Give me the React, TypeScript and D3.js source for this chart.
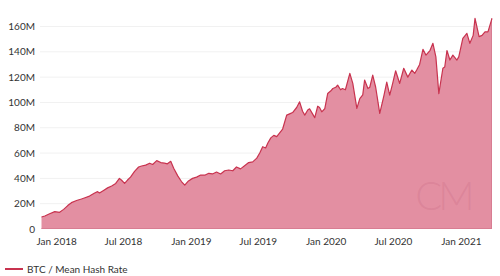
import React from "react";
import * as d3 from "d3";

const dates: string[] = [
  "2017-11-21","2017-11-30","2017-12-13","2017-12-27","2018-01-09","2018-01-20","2018-01-31","2018-02-10","2018-02-24","2018-03-09",
  "2018-03-17","2018-03-31","2018-04-14","2018-04-22","2018-04-27","2018-05-08","2018-05-19","2018-05-30","2018-06-10","2018-06-20",
  "2018-06-26","2018-07-04","2018-07-12","2018-07-20","2018-07-31","2018-08-11","2018-08-19","2018-08-30","2018-09-10","2018-09-18",
  "2018-09-29","2018-10-10","2018-10-20","2018-10-28","2018-11-06","2018-11-14","2018-11-25","2018-12-05","2018-12-14","2018-12-24",
  "2019-01-04","2019-01-15","2019-01-26","2019-02-06","2019-02-17","2019-02-27","2019-03-10","2019-03-21","2019-04-01","2019-04-12",
  "2019-04-23","2019-05-03","2019-05-14","2019-05-25","2019-06-05","2019-06-16","2019-06-27","2019-07-05","2019-07-13","2019-07-21",
  "2019-07-27","2019-08-04","2019-08-12","2019-08-20","2019-08-28","2019-09-05","2019-09-16","2019-09-24","2019-10-02","2019-10-13",
  "2019-10-21","2019-10-29","2019-11-04","2019-11-12","2019-11-17","2019-11-25","2019-12-01","2019-12-09","2019-12-14","2019-12-20",
  "2019-12-28","2020-01-05","2020-01-13","2020-01-19","2020-01-27","2020-02-01","2020-02-09","2020-02-14","2020-02-22","2020-03-05",
  "2020-03-13","2020-03-24","2020-04-01","2020-04-09","2020-04-14","2020-04-23","2020-04-28","2020-05-06","2020-05-14","2020-05-25",
  "2020-06-05","2020-06-13","2020-06-21","2020-06-29","2020-07-07","2020-07-18","2020-07-29","2020-08-09","2020-08-20","2020-08-28",
  "2020-09-02","2020-09-10","2020-09-19","2020-09-27","2020-10-08","2020-10-16","2020-10-24","2020-11-01","2020-11-12","2020-11-17",
  "2020-11-23","2020-12-01","2020-12-09","2020-12-20","2020-12-25","2021-01-05","2021-01-16","2021-01-24","2021-02-02","2021-02-07",
  "2021-02-18","2021-02-26","2021-03-06","2021-03-14","2021-03-25"
];

const hashRateM: number[] = [
  9.5,10.3,12,13.7,13.2,15.5,18.5,20.8,22.5,23.7,
  24.5,26,28.5,29.5,28.5,30.5,32.5,34,36,40,
  38.5,36,38.7,41,45.5,49,49.8,50.5,52,51,
  54,52.5,52,51.5,53.5,48,42,37.5,34.7,38,
  40,41,42.6,42.5,44,43.5,45,43.5,46,46.6,
  46,49,47.5,50,52.5,53,56,60,65,64,
  68,72,74,73,76,79,90,91,92,96,
  100.5,93,90,94,95,91,88,97,96,92.6,
  95,107,109,111,112,113.7,110,111,110,123,
  115,95.3,103,106,117.7,111,112,121.6,112,91.4,
  105,116,105.8,115,125,115,127,120,125.6,123,
  125.6,130,142,137.4,141,146.7,136,107,127,128,
  141,133.5,137.4,133.5,136,150.6,154.6,146.7,153,166.4,
  152,153,155.8,155.8,166.4
];

const yTicks: number[] = [0, 20, 40, 60, 80, 100, 120, 140, 160];
const xTickDates: string[] = ["2018-01-01", "2018-07-01", "2019-01-01", "2019-07-01", "2020-01-01", "2020-07-01", "2021-01-01"];
const seriesName = "BTC / Mean Hash Rate";

const W = 500;
const H = 276;
const FONT = "Lato, 'Open Sans', sans-serif";

export default function App() {
  const parse = d3.utcParse("%Y-%m-%d");
  const data = dates.map((d, i) => ({ date: parse(d) as Date, v: hashRateM[i] }));
  const x = d3
    .scaleUtc()
    .domain([data[0].date, data[data.length - 1].date])
    .range([41.5, 492]);
  const y = d3.scaleLinear().domain([0, 160]).range([229, 26.5]);

  const area = d3
    .area<{ date: Date; v: number }>()
    .x((d) => x(d.date))
    .y0(y(0))
    .y1((d) => y(d.v));
  const line = d3
    .line<{ date: Date; v: number }>()
    .x((d) => x(d.date))
    .y((d) => y(d.v));
  const fmt = d3.utcFormat("%b %Y");

  return (
    <svg width={W} height={H} style={{ position: "absolute", left: 0, top: 0, background: "#fff" }}>
      {yTicks.map((t) => (
        <g key={t}>
          {t > 0 && (
            <line x1={40} x2={492} y1={y(t)} y2={y(t)} stroke="#f1f1f1" strokeWidth={1} />
          )}
          <text
            x={35}
            y={y(t)}
            dy="0.35em"
            textAnchor="end"
            fontFamily={FONT}
            fontSize={10}
            fill="#333"
          >
            {t === 0 ? "0" : `${t}M`}
          </text>
        </g>
      ))}
      <path d={area(data) || ""} fill="#e38fa2" />
      <line x1={x(data[0].date)} x2={492} y1={228.5} y2={228.5} stroke="#d87d92" strokeWidth={1} />
      <line x1={491.5} x2={491.5} y1={y(data[data.length - 1].v)} y2={229} stroke="#d87d92" strokeWidth={1} />
      <text
        x={443}
        y={210}
        textAnchor="middle"
        fontFamily={FONT}
        fontWeight={300}
        fontSize={40}
        letterSpacing={-4}
        fill="#b8556f"
        fillOpacity={0.18}
      >
        CM
      </text>
      <path d={line(data) || ""} fill="none" stroke="#c8334f" strokeWidth={1.2} strokeLinejoin="round" />
      {xTickDates.map((s) => {
        const d = parse(s) as Date;
        return (
          <text
            key={s}
            x={x(d)}
            y={245}
            textAnchor="middle"
            fontFamily={FONT}
            fontSize={10}
            fill="#333"
          >
            {fmt(d)}
          </text>
        );
      })}
      <line x1={5} x2={23} y1={269} y2={269} stroke="#c8334f" strokeWidth={2} />
      <text x={27} y={269} dy="0.35em" fontFamily={FONT} fontSize={10} fill="#333">
        {seriesName}
      </text>
    </svg>
  );
}
